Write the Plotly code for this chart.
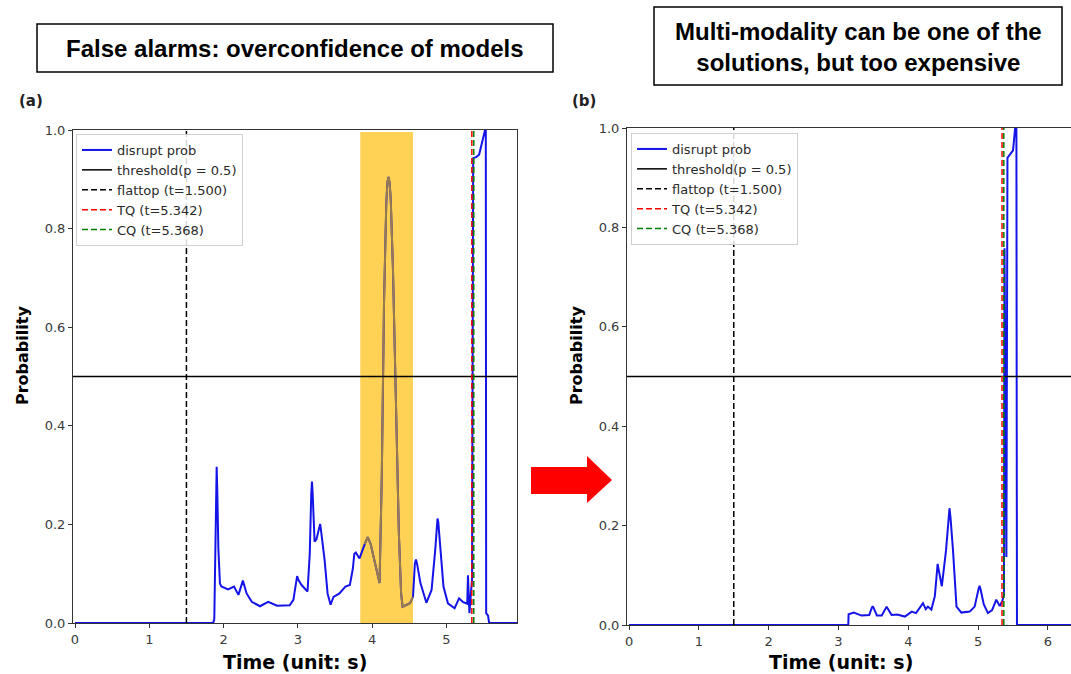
import plotly.graph_objects as go

# ---------------- data ----------------
a_time = [0.0, 1.86, 1.875, 1.89, 1.90, 1.907, 1.915, 1.93, 1.951, 1.97, 2.06, 2.14, 2.20, 2.26, 2.31, 2.38,
          2.49, 2.60, 2.72, 2.89, 2.94, 2.975, 2.99, 3.005, 3.05, 3.13, 3.16, 3.18, 3.19, 3.20, 3.225, 3.25,
          3.29, 3.30, 3.31, 3.36, 3.40, 3.44, 3.48, 3.56, 3.64, 3.70, 3.74, 3.76, 3.78, 3.83, 3.90, 3.94,
          3.98, 4.03, 4.10, 4.13, 4.16, 4.19, 4.205, 4.22, 4.235, 4.25, 4.28, 4.32, 4.36, 4.39, 4.41,
          4.51, 4.55, 4.575, 4.59, 4.605, 4.65, 4.73, 4.80, 4.85, 4.87, 4.88, 4.89, 4.92, 4.96, 5.02, 5.11,
          5.17, 5.22, 5.28, 5.29, 5.31, 5.345, 5.36, 5.40, 5.44, 5.47, 5.50, 5.52, 5.53, 5.535,
          5.56, 5.575, 5.95]
a_prob = [0.0, 0.0, 0.008, 0.15, 0.27, 0.317, 0.27, 0.15, 0.080, 0.074, 0.068, 0.074, 0.057, 0.086, 0.060, 0.043,
          0.034, 0.043, 0.035, 0.036, 0.047, 0.088, 0.095, 0.088, 0.077, 0.064, 0.14, 0.26, 0.287, 0.26, 0.165, 0.17,
          0.195, 0.201, 0.19, 0.128, 0.06, 0.037, 0.053, 0.060, 0.074, 0.077, 0.11, 0.140, 0.143, 0.131, 0.16, 0.174,
          0.16, 0.128, 0.081, 0.30, 0.65, 0.85, 0.893, 0.905, 0.893, 0.86, 0.72, 0.45, 0.18, 0.06, 0.033,
          0.040, 0.053, 0.12, 0.129, 0.12, 0.081, 0.041, 0.067, 0.15, 0.205, 0.212, 0.205, 0.14, 0.074, 0.040, 0.030,
          0.050, 0.043, 0.039, 0.097, 0.02, 0.09, 0.943, 0.945, 0.95, 0.97, 0.985, 1.0, 1.0, 0.02,
          0.015, 0.0, 0.0]

b_time = [0.0, 3.14, 3.145, 3.22, 3.33, 3.44, 3.475, 3.49, 3.505, 3.55, 3.62, 3.675, 3.69, 3.705, 3.76, 3.84,
          3.95, 4.05, 4.11, 4.21, 4.25, 4.28, 4.33, 4.38, 4.41, 4.42, 4.43, 4.48, 4.54, 4.575, 4.59, 4.605,
          4.64, 4.69, 4.76, 4.88, 4.95, 5.005, 5.02, 5.035, 5.08, 5.14, 5.20, 5.26, 5.31, 5.35, 5.37, 5.378,
          5.405, 5.42, 5.47, 5.50, 5.53, 5.548, 5.556, 6.33]
b_prob = [0.0, 0.0, 0.0215, 0.025, 0.019, 0.020, 0.034, 0.038, 0.034, 0.019, 0.019, 0.033, 0.037, 0.033, 0.020, 0.021,
          0.017, 0.027, 0.024, 0.044, 0.032, 0.037, 0.031, 0.058, 0.115, 0.123, 0.115, 0.078, 0.150, 0.215, 0.235, 0.215,
          0.150, 0.037, 0.025, 0.027, 0.037, 0.072, 0.079, 0.072, 0.042, 0.024, 0.030, 0.051, 0.038, 0.05, 0.06, 0.758,
          0.137, 0.94, 0.95, 0.955, 1.0, 1.0, 0.0, 0.0]

threshold = 0.5
flattop_t = 1.500
tq_t = 5.342
cq_t = 5.368
highlight = [3.84, 4.55]

legend_names = ["disrupt prob", "threshold(p = 0.5)", "flattop (t=1.500)", "TQ (t=5.342)", "CQ (t=5.368)"]
title_a = "False alarms: overconfidence of models"
title_b = "Multi-modality can be one of the<br>solutions, but too expensive"

# ---------------- layout helpers ----------------
W, H = 1071, 674
def px(x):
    return x / W
def py(y):
    return 1 - y / H

BLUE = "#1414e8"
TICKFONT = dict(family="DejaVu Sans", size=13, color="#3a3a3a")
LINE = dict(color=BLUE, width=2)

fig = go.Figure()

# panel (a) curve
fig.add_trace(go.Scatter(x=a_time, y=a_prob, mode="lines", name=legend_names[0],
                         line=LINE, xaxis="x", yaxis="y", legend="legend"))
# part of curve seen through the highlight box
hx = [t for t in a_time if highlight[0] <= t <= highlight[1]]
hy = [p for t, p in zip(a_time, a_prob) if highlight[0] <= t <= highlight[1]]
fig.add_trace(go.Scatter(x=hx, y=hy, mode="lines", showlegend=False, hoverinfo="skip",
                         line=dict(color="#9a7b4c", width=2), xaxis="x", yaxis="y"))
# panel (b) curve
fig.add_trace(go.Scatter(x=b_time, y=b_prob, mode="lines", name=legend_names[0],
                         line=LINE, xaxis="x2", yaxis="y2", legend="legend2"))

for xa, ya, lg in [("x", "y", "legend"), ("x2", "y2", "legend2")]:
    fig.add_shape(type="line", xref=f"{xa} domain", yref=ya, x0=0, x1=1, y0=threshold, y1=threshold,
                  line=dict(color="black", width=1.5), showlegend=True, name=legend_names[1], legend=lg)
    fig.add_shape(type="line", xref=xa, yref=f"{ya} domain", x0=flattop_t, x1=flattop_t, y0=0, y1=1,
                  line=dict(color="black", width=1.5, dash="6px,3px"), showlegend=True,
                  name=legend_names[2], legend=lg)
    fig.add_shape(type="line", xref=xa, yref=f"{ya} domain", x0=tq_t, x1=tq_t, y0=0, y1=1,
                  line=dict(color="red", width=1.5, dash="6px,3px"), showlegend=True,
                  name=legend_names[3], legend=lg)
    fig.add_shape(type="line", xref=xa, yref=f"{ya} domain", x0=cq_t, x1=cq_t, y0=0, y1=1,
                  line=dict(color="green", width=1.5, dash="6px,3px"), showlegend=True,
                  name=legend_names[4], legend=lg)

# yellow highlight
fig.add_shape(type="rect", xref="x", yref="y domain", x0=highlight[0], x1=highlight[1], y0=0, y1=0.996,
              fillcolor="#ffd255", line=dict(width=0), layer="below")

# red arrow
fig.add_shape(type="rect", xref="paper", yref="paper", x0=px(531), x1=px(588), y0=py(494), y1=py(467),
              fillcolor="#ff0000", line=dict(width=0))
fig.add_shape(type="path", xref="paper", yref="paper",
              path=f"M {px(587)},{py(456)} L {px(612)},{py(480)} L {px(587)},{py(503)} Z",
              fillcolor="#ff0000", line=dict(width=0))

# title boxes
fig.add_shape(type="rect", xref="paper", yref="paper", x0=px(37), x1=px(553), y0=py(72), y1=py(24),
              line=dict(color="black", width=1.5))
fig.add_shape(type="rect", xref="paper", yref="paper", x0=px(654), x1=px(1062), y0=py(85), y1=py(7),
              line=dict(color="black", width=1.5))

ann = [
    dict(text=f"<b>{title_a}</b>", x=px(295), y=py(48), font=dict(family="Liberation Sans", size=24, color="black")),
    dict(text=f"<b>{title_b}</b>", x=px(858), y=py(47), font=dict(family="Liberation Sans", size=24, color="black")),
    dict(text="<b>(a)</b>", x=px(31), y=py(101), font=dict(family="DejaVu Sans", size=15, color="#222")),
    dict(text="<b>(b)</b>", x=px(584), y=py(101), font=dict(family="DejaVu Sans", size=15, color="#222")),
    dict(text="<b>Probability</b>", x=px(22), y=py(356), textangle=-90, font=dict(family="DejaVu Sans", size=16, color="black")),
    dict(text="<b>Probability</b>", x=px(576), y=py(356), textangle=-90, font=dict(family="DejaVu Sans", size=16, color="black")),
    dict(text="<b>Time (unit: s)</b>", x=px(295), y=py(662), font=dict(family="DejaVu Sans", size=19, color="black")),
    dict(text="<b>Time (unit: s)</b>", x=px(841), y=py(662), font=dict(family="DejaVu Sans", size=19, color="black")),
]
for a in ann:
    fig.add_annotation(xref="paper", yref="paper", showarrow=False, xanchor="center", yanchor="middle", **a)

axis_common = dict(showgrid=False, zeroline=False, showline=True, linecolor="#333", linewidth=1,
                   ticks="outside", ticklen=4, tickcolor="#333", tickfont=TICKFONT, automargin=False)

LEG = dict(xanchor="left", yanchor="top", bgcolor="rgba(255,255,255,0.85)",
           bordercolor="#d0d0d0", borderwidth=1, font=dict(family="DejaVu Sans", size=13, color="#2a2a2a"),
           itemwidth=30, tracegroupgap=0)

fig.update_layout(
    width=W, height=H, margin=dict(l=0, r=0, t=0, b=0, autoexpand=False),
    paper_bgcolor="white", plot_bgcolor="white",
    xaxis=dict(domain=[px(73), px(517)], range=[-0.027, 5.95], tickvals=[0, 1, 2, 3, 4, 5],
               anchor="y", mirror=True, **axis_common),
    yaxis=dict(domain=[py(623), py(130)], range=[0, 1.0], tickvals=[0, 0.2, 0.4, 0.6, 0.8, 1.0],
               tickformat=".1f", anchor="x", mirror=True, **axis_common),
    xaxis2=dict(domain=[px(627), 1.0], range=[-0.029, 6.33], tickvals=[0, 1, 2, 3, 4, 5, 6],
                anchor="y2", mirror=True, **axis_common),
    yaxis2=dict(domain=[py(625), py(128)], range=[0, 1.0], tickvals=[0, 0.2, 0.4, 0.6, 0.8, 1.0],
                tickformat=".1f", anchor="x2", mirror=False, **axis_common),
    legend=dict(x=px(76), y=py(134), **LEG),
    legend2=dict(x=px(631), y=py(133), **LEG),
)

fig.write_html("out.html")
